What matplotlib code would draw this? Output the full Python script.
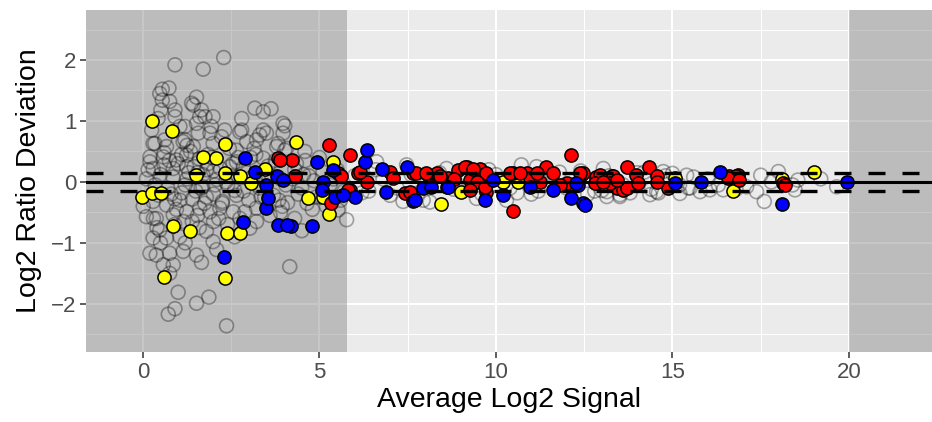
import matplotlib
matplotlib.use('Agg')
import matplotlib.pyplot as plt

'''MA style plot: ratio deviation vs average signal, with highlighted spots'''

# all measured spots (hollow grey circles)
gray_x = [0.91, 1.71, 2.29, 0.55, 0.74, 0.48, 0.55, 0.76, 1.52, 1.43, 1.66, 1.61, 1.76, 2.80, 3.17, 3.41,
          3.63, 3.97, 4.02, 0.51, 0.91, 0.43, 0.91, 1.94, 2.80, 3.31, 3.50, 3.83, 4.59, 4.02, 0.25, 0.34,
          0.20, 0.62, 1.19, 1.19, 1.57, 2.23, 1.38, 1.05, 1.52, 1.99, 2.32, 1.90, 2.75, 3.41, 3.97, 2.94,
          3.22, 3.79, 0.29, 0.67, 1.14, 1.43, 1.99, 2.65, 0.20, 0.58, 0.95, 1.24, 0.29, 0.86, 1.24, 1.80,
          2.65, 2.46, 3.41, 4.07,
          0.10, 0.35, 0.50, 0.70, 0.85, 1.00, 1.10, 1.25, 1.40, 1.55, 1.70, 1.85, 2.00, 2.10, 2.25, 2.50,
          2.60, 2.85, 3.00, 3.10, 3.30, 3.55, 3.70, 3.90, 4.10, 4.30, 4.50, 4.70, 4.90, 5.10, 5.30, 5.50,
          5.70, 1.20, 1.50, 1.70, 2.00, 1.30, 1.80, 2.40, 2.20, 0.60, 0.90, 1.60, 1.10, 2.70, 3.20, 4.60,
          5.00, 4.80, 3.90,
          0.01, 0.29, 0.67, 0.10, 0.38, 0.86, 1.24, 1.61, 1.90, 2.18, 2.56, 2.89, 3.22, 3.22, 3.03, 0.48,
          0.29, 0.67, 1.05, 1.80, 1.99, 0.20, 0.38, 0.76, 1.14, 1.52, 0.58, 0.86, 1.66, 0.76, 1.00, 1.52,
          1.87, 0.72, 0.91, 2.37, 4.16, 2.09, 1.40, 2.40, 2.60, 1.20, 0.90, 3.60, 4.30, 5.20, 4.50, 2.00,
          1.60, 0.50,
          0.15, 0.45, 0.75, 1.05, 1.35, 1.65, 1.95, 2.25, 2.55, 2.85, 3.15, 3.45, 3.75, 4.05, 4.35, 4.65,
          0.30, 0.60, 0.95, 1.25, 1.55, 1.85, 2.15, 2.45, 2.75, 3.05, 3.35, 3.65, 3.95, 4.25, 4.55, 4.85,
          0.40, 0.80, 1.15, 1.45, 1.75, 2.05, 2.35, 2.65, 2.95, 3.25, 3.55, 3.85, 4.40, 5.05, 5.40, 5.60,
          5.77, 5.53, 6.62, 7.47, 7.94, 8.13, 10.72, 13.14, 11.15, 7.37, 9.45, 10.30,
          6.0, 6.4, 6.8, 7.2, 7.6, 8.0, 8.4, 8.8, 9.2, 9.6, 10.0, 10.4, 10.8, 11.2, 11.6, 12.0, 12.4,
          12.8, 13.2, 13.6, 14.0, 14.4, 14.8, 15.2, 15.6, 16.0, 16.3, 16.8,
          6.2, 6.6, 7.0, 7.8, 8.6, 9.0, 9.8, 10.6, 11.0, 11.8, 12.6, 13.0, 13.8, 14.2, 14.6, 15.0,
          13.51, 13.14, 14.74, 15.40, 13.04, 13.51, 14.36, 15.21, 15.50, 16.06, 16.44, 15.45, 15.78, 14.55,
          17.60, 17.50, 18.00, 18.55, 18.40, 17.38, 17.10, 18.47, 19.65, 17.8, 19.2]
gray_y = [1.92, 1.85, 2.04, 1.52, 1.54, 1.45, 1.34, 1.32, 1.39, 1.26, 1.18, 1.07, 1.07, 1.04, 1.21, 1.15,
          1.20, 0.96, 0.92, 1.18, 1.18, 1.04, 1.07, 0.91, 0.85, 0.77, 0.80, 0.63, 0.50, 0.52, 0.85, 0.63,
          0.33, 0.69, 0.91, 0.69, 0.80, 0.74, 1.29, 0.91, 0.96, 1.07, 0.85, 0.80, 0.82, 0.85, 0.80, 0.66,
          0.69, 0.58, 0.63, 0.58, 0.66, 0.58, 0.63, 0.52, 0.41, 0.41, 0.36, 0.44, 0.22, 0.22, 0.25, 0.20,
          0.33, 0.25, 0.39, 0.55,
          0.05, -0.05, 0.12, -0.10, 0.08, 0.30, -0.18, 0.05, -0.28, 0.15, -0.08, 0.30, -0.20, 0.04, -0.32, 0.10,
          -0.14, 0.24, -0.30, 0.08, -0.10, 0.26, -0.22, 0.05, -0.34, 0.20, -0.10, 0.10, -0.25, 0.16, -0.05, 0.20,
          -0.15, -0.05, -0.15, 0.12, 0.18, 0.15, -0.25, -0.05, 0.22, 0.28, -0.28, 0.38, 0.45, 0.40, 0.45, 0.35,
          0.40, -0.45, -0.50,
          -0.40, -0.32, -0.38, -0.57, -0.60, -0.54, -0.49, -0.43, -0.49, -0.43, -0.49, -0.49, -0.43, -0.65, -0.76, -0.79,
          -0.92, -0.92, -0.90, -0.81, -0.98, -1.17, -1.20, -1.17, -1.14, -1.20, -1.36, -1.36, -1.32, -1.50, -1.81, -1.99,
          -1.89, -2.17, -2.08, -2.36, -1.39, -1.11, -0.65, -0.70, -0.90, -1.00, -0.70, -0.55, -0.60, -0.40, -0.80, -0.65,
          -0.75, -1.00,
          0.20, -0.22, 0.35, -0.30, 0.50, -0.10, 0.40, -0.35, 0.30, -0.15, 0.55, -0.25, 0.35, -0.05, 0.30, -0.35,
          -0.60, 0.48, -0.45, 0.60, -0.55, 0.45, -0.60, 0.55, -0.60, 0.40, -0.25, 0.10, -0.40, 0.05, 0.12, 0.02,
          -0.75, -0.20, -0.65, 0.25, -0.35, -0.05, 0.00, -0.22, 0.15, -0.05, 0.12, -0.30, -0.20, -0.25, 0.05, -0.30,
          -0.62, -0.46, 0.33, 0.28, -0.30, -0.33, 0.28, -0.24, 0.25, -0.32, -0.27, -0.30,
          0.10, -0.15, 0.05, -0.10, 0.12, -0.05, 0.15, -0.12, 0.10, -0.20, 0.12, -0.10, 0.05, -0.15, 0.12, -0.10, 0.18,
          -0.15, 0.10, -0.05, 0.15, -0.12, 0.10, -0.05, 0.08, 0.05, -0.05, -0.12,
          -0.18, 0.20, -0.22, -0.18, 0.22, -0.15, 0.20, -0.18, -0.20, 0.16, -0.20, -0.14, -0.18, 0.16, -0.18, 0.14,
          -0.21, -0.16, 0.17, 0.11, 0.22, -0.24, -0.21, -0.19, -0.10, -0.13, -0.13, -0.10, -0.16, -0.16,
          -0.32, 0.11, 0.17, 0.03, -0.05, -0.16, -0.08, -0.13, -0.08, 0.00, 0.05]

# highlighted spots
red_x = [3.83, 4.23, 5.27, 5.86, 4.31, 5.53, 6.10, 3.88, 5.62, 5.86, 5.34, 7.00, 7.42, 7.66, 8.08, 8.32,
         6.34, 6.15, 5.82, 7.09, 7.75, 8.93, 9.17, 9.55, 9.73, 9.73, 10.48, 10.47, 10.87, 11.43, 11.62, 12.14,
         12.00, 12.42, 12.85, 13.32, 13.70, 13.42, 13.60, 7.56, 8.13, 8.65, 8.80, 9.27, 9.45, 10.96, 11.25, 9.27,
         9.69, 11.81, 12.83, 9.12, 9.36, 8.03, 10.40, 10.68, 11.15, 12.47, 8.41, 14.33, 12.38, 12.95, 13.98, 14.55,
         12.80, 13.70, 14.03, 14.88, 13.23, 16.60, 16.86, 14.55, 16.81, 16.58, 16.87, 18.14, 13.42, 13.04, 18.19]
red_y = [0.39, 0.36, 0.61, 0.44, 0.09, 0.14, 0.15, 0.36, 0.10, -0.13, -0.35, 0.17, -0.19, 0.14, 0.11, 0.14,
         0.00, 0.17, -0.13, 0.06, 0.14, 0.20, 0.25, 0.22, 0.14, -0.16, 0.14, -0.48, 0.14, 0.25, 0.14, 0.44,
         -0.02, 0.11, -0.02, 0.09, 0.25, -0.10, -0.13, -0.16, -0.05, 0.06, 0.04, 0.03, 0.00, 0.06, 0.00, -0.13,
         -0.08, -0.05, 0.08, 0.25, 0.22, 0.14, 0.14, 0.14, 0.14, 0.14, 0.09, 0.25, 0.14, 0.11, 0.11, 0.09,
         -0.02, -0.10, -0.02, -0.10, -0.02, 0.09, 0.11, 0.00, 0.09, 0.06, 0.03, -0.02, 0.03, 0.00, -0.05]

blue_x = [2.89, 3.17, 3.79, 4.93, 6.29, 2.84, 2.30, 3.83, 4.21, 4.78, 3.50, 3.55, 3.50, 5.11, 5.44, 6.00,
          6.34, 5.39, 6.76, 7.47, 3.97, 5.06, 6.90, 7.66, 7.94, 8.17, 7.71, 8.60, 9.69, 9.92, 10.20, 11.62,
          12.33, 12.14, 12.47, 10.96, 5.67, 8.65, 12.28, 12.52, 15.07, 15.82, 16.35, 18.09, 19.93, 4.07]
blue_y = [0.40, 0.17, 0.09, 0.33, 0.33, -0.65, -1.23, -0.70, -0.73, -0.73, -0.42, -0.27, -0.05, 0.00, -0.24, -0.24,
          0.52, 0.20, 0.22, 0.25, 0.03, -0.13, -0.16, -0.32, -0.10, -0.08, -0.30, -0.08, -0.30, 0.03, -0.21, -0.13,
          -0.05, -0.27, -0.35, -0.08, -0.21, -0.08, -0.02, -0.38, -0.02, 0.00, 0.17, -0.36, 0.00, -0.70]

yellow_x = [0.26, 0.83, 2.33, 1.71, 2.06, 4.35, 5.39, 3.46, 1.50, 2.32, 2.75, -0.01, 0.25, 0.51, 0.84, 1.33,
            2.39, 2.75, 0.59, 2.33, 3.05, 4.68, 5.11, 5.27, 8.45, 10.63, 10.20, 9.77, 9.02, 13.28, 15.07,
            16.72, 18.09, 19.01]
yellow_y = [1.00, 0.84, 0.62, 0.41, 0.40, 0.66, 0.32, 0.22, 0.11, 0.15, 0.10, -0.24, -0.19, -0.19, -0.72, -0.80,
            -0.83, -0.84, -1.56, -1.58, -0.02, -0.27, -0.24, -0.52, -0.37, 0.00, 0.00, 0.00, -0.17, 0.09, 0.06,
            -0.15, 0.04, 0.17]

# shaded (excluded) signal ranges and cutoff lines
low_cut = 5.78
high_cut = 20.0
dev_cut = 0.15

plt.rcParams['font.family'] = ['Liberation Sans', 'DejaVu Sans']

fig = plt.figure(figsize=(9.32, 4.22), dpi=100)
ax = fig.add_axes([86 / 932, 70 / 422, 846 / 932, 342 / 422])
ax.set_facecolor('#EBEBEB')
xmin, xmax = -1.61, 22.35
ymin, ymax = -2.79, 2.82

# ggplot-ish grid (ticks first, set_xticks would widen the limits otherwise)
ax.set_xticks([0, 5, 10, 15, 20])
ax.set_yticks([-2, -1, 0, 1, 2])
ax.set_yticklabels(['\u22122', '\u22121', '0', '1', '2'])
ax.set_xticks([2.5, 7.5, 12.5, 17.5], minor=True)
ax.set_yticks([-2.5, -1.5, -0.5, 0.5, 1.5, 2.5], minor=True)
ax.grid(True, which='major', color='white', linewidth=1.5, zorder=0.5)
ax.grid(True, which='minor', color='white', linewidth=0.75, zorder=0.5)
ax.set_axisbelow(True)
for s in ax.spines.values():
    s.set_visible(False)
ax.tick_params(which='major', length=4, width=1.1, color='#333333', labelcolor='#4D4D4D',
               labelsize=16, pad=3)
ax.tick_params(which='minor', length=0)

ax.axvspan(xmin, low_cut, color='#7F7F7F', alpha=0.43, lw=0, zorder=1)
ax.axvspan(high_cut, xmax, color='#7F7F7F', alpha=0.43, lw=0, zorder=1)

ax.scatter(gray_x, gray_y, s=100, facecolors='none', edgecolors=(0, 0, 0, 0.33), linewidths=1.2, zorder=2)
ax.scatter(yellow_x, yellow_y, s=90, c='#FFFF00', edgecolors='black', linewidths=1.1, zorder=3)
ax.scatter(red_x, red_y, s=90, c='#FF0000', edgecolors='black', linewidths=1.1, zorder=3)
ax.scatter(blue_x, blue_y, s=90, c='#0000FF', edgecolors='black', linewidths=1.1, zorder=3)

ax.axhline(0, color='black', lw=2.2, zorder=4)
ax.axhline(dev_cut, color='black', lw=2.4, linestyle=(0, (5.1, 5.1)), zorder=4)
ax.axhline(-dev_cut, color='black', lw=2.4, linestyle=(0, (5.1, 5.1)), zorder=4)

ax.set_xlim(xmin, xmax)
ax.set_ylim(ymin, ymax)
ax.set_xlabel('Average Log2 Signal', fontsize=20.5, labelpad=3)
ax.set_ylabel('Log2 Ratio Deviation', fontsize=20.5, labelpad=6)

fig.savefig('out.png', dpi=100)
